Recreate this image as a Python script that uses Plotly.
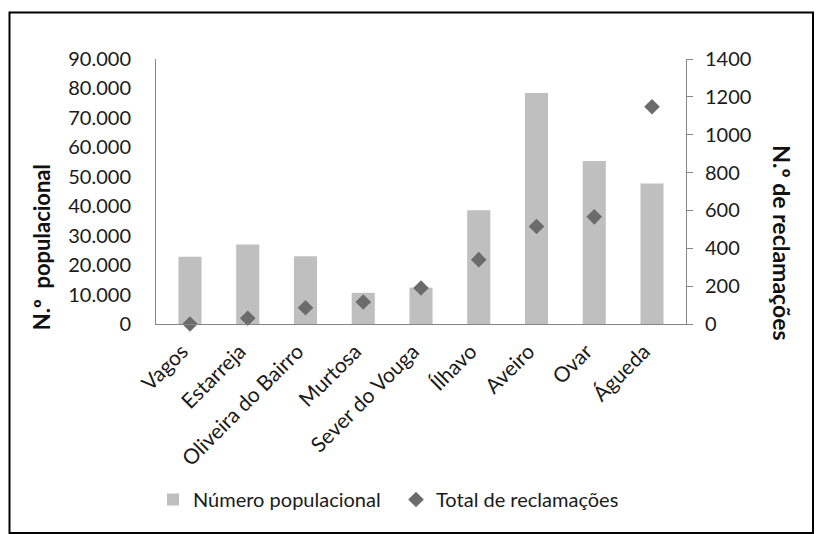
import plotly.graph_objects as go

categories = ["Vagos", "Estarreja", "Oliveira do Bairro", "Murtosa", "Sever do Vouga",
              "Ílhavo", "Aveiro", "Ovar", "Águeda"]
populacao = [22851, 26997, 23028, 10585, 12356, 38598, 78450, 55398, 47729]
reclamacoes = [0, 30, 86, 116, 190, 340, 515, 566, 1148]

left_ticks = [0, 10000, 20000, 30000, 40000, 50000, 60000, 70000, 80000, 90000]
right_ticks = [0, 200, 400, 600, 800, 1000, 1200, 1400]

FONT = "Lato, 'Open Sans', sans-serif"
AXIS_COLOR = "#868686"

W, H = 816, 534
L, R_EDGE, T, B_EDGE = 156, 686, 59, 323.7
pw, ph = R_EDGE - L, B_EDGE - T

def px_x(x):
    return (x - L) / pw

def px_y(y):
    return (B_EDGE - y) / ph

fig = go.Figure()
fig.add_trace(go.Bar(
    x=categories, y=populacao, name="Número populacional",
    marker=dict(color="#BFBFBF", line=dict(width=0)),
))
fig.add_trace(go.Scatter(
    x=categories, y=reclamacoes, name="Total de reclamações", yaxis="y2",
    mode="markers", cliponaxis=False,
    marker=dict(symbol="diamond", size=12, color="#6B6B6B", line=dict(width=0)),
))

fig.update_layout(
    width=W, height=H,
    margin=dict(l=L, r=W - R_EDGE, t=T, b=H - B_EDGE, autoexpand=False),
    paper_bgcolor="white", plot_bgcolor="white",
    separators=",.",
    font=dict(family=FONT, size=20, color="#1a1a1a"),
    bargap=0.6,
    showlegend=True,
    legend=dict(orientation="h", x=px_x(153), xanchor="left", y=px_y(499), yanchor="middle",
                font=dict(family=FONT, size=20, color="#1a1a1a"), itemwidth=30,
                entrywidth=198, bgcolor="rgba(0,0,0,0)"),
    xaxis=dict(showline=True, linecolor=AXIS_COLOR, linewidth=1, ticks="", tickangle=-45,
               showgrid=False, tickfont=dict(size=21), automargin=False,
               ticklabelshift=-8, ticklabelstandoff=6),
    yaxis=dict(range=[0, 90000], tickvals=left_ticks, tickformat=",.0f", showgrid=False,
               showline=True, linecolor=AXIS_COLOR, linewidth=1, ticks="", zeroline=False,
               ticklabelstandoff=20, tickfont=dict(size=20), automargin=False),
    yaxis2=dict(range=[0, 1400], tickvals=right_ticks, tickformat="d", overlaying="y", side="right",
                showgrid=False, showline=True, linecolor=AXIS_COLOR, linewidth=1,
                ticks="outside", ticklen=6, tickcolor=AXIS_COLOR, zeroline=False,
                ticklabelstandoff=8, tickfont=dict(size=20), automargin=False),
)

fig.add_annotation(text="<b>N.º  populacional</b>", textangle=-90, xref="paper", yref="paper",
                   x=px_x(41), y=px_y(247), xanchor="center", yanchor="middle",
                   showarrow=False, font=dict(size=22, color="#111"))
fig.add_annotation(text="<b>N.º de reclamações</b>", textangle=90, xref="paper", yref="paper",
                   x=px_x(782), y=px_y(242), xanchor="center", yanchor="middle",
                   showarrow=False, font=dict(size=23, color="#111"))

fig.add_shape(type="rect", xref="paper", yref="paper",
              x0=px_x(9.5), x1=px_x(813), y0=px_y(532.5), y1=px_y(12.5),
              line=dict(color="black", width=2), fillcolor="rgba(0,0,0,0)", layer="below")

fig.write_html("out.html", config={"displayModeBar": False},
               post_script="document.body.style.margin='0';")
